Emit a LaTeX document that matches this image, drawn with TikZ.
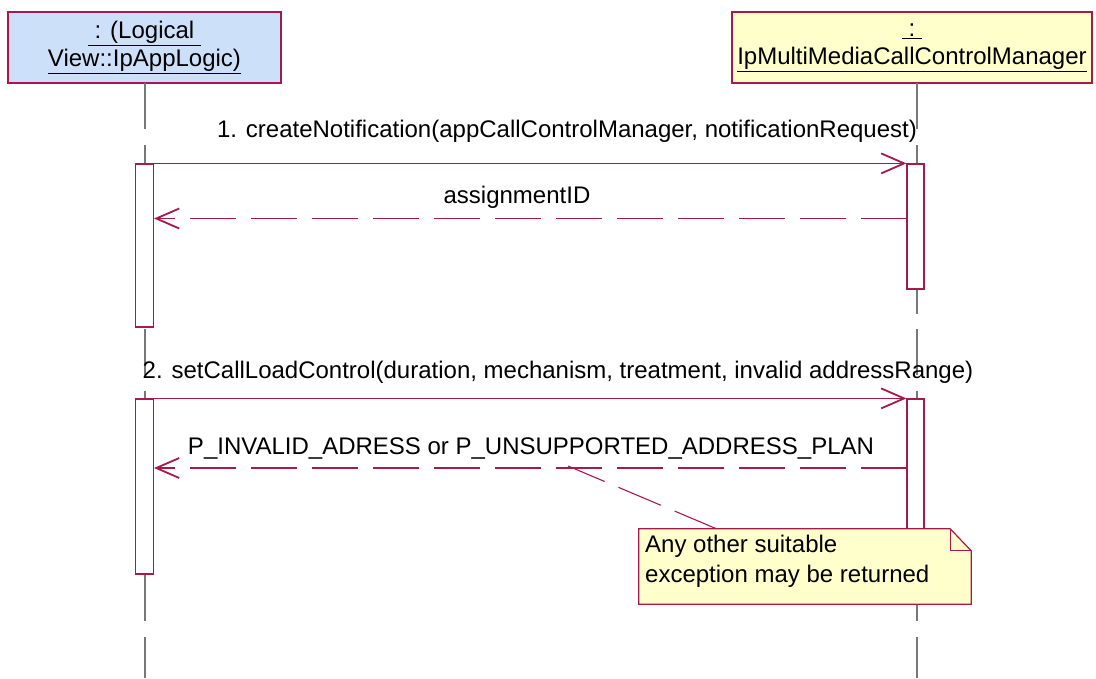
\documentclass[tikz,border=0pt]{standalone}
\usepackage{fontspec}
\setmainfont{Liberation Sans}
\usetikzlibrary{arrows.meta}
\definecolor{umlred}{RGB}{165,25,75}
\definecolor{boxblue}{RGB}{204,224,250}
\definecolor{noteyel}{RGB}{255,255,204}
\definecolor{lifegray}{RGB}{120,120,120}
\tikzset{
  obj/.style={draw=umlred, line width=1.2pt, inner sep=0pt, align=center, font=\fontsize{24}{28}\selectfont},
  lifeline/.style={draw=lifegray, line width=1.6pt, dash pattern=on 46pt off 15.5pt},
  actbox/.style={draw=umlred, fill=white, line width=1.2pt, inner sep=0pt, minimum width=18pt},
  msg/.style={draw=umlred, line width=1.3pt, -{Straight Barb[length=23pt,width=20pt,line width=1.8pt]}},
  ret/.style={msg, dash pattern=on 46pt off 15pt},
  lbl/.style={font=\fontsize{24}{28}\selectfont, inner sep=0pt},
  notelink/.style={draw=umlred, line width=1.1pt, dash pattern=on 46pt off 15pt},
  notebox/.style={draw=umlred, fill=noteyel, line width=1.2pt},
}
\begin{document}
\begin{tikzpicture}[x=1pt,y=-1pt]
\useasboundingbox (0,0) rectangle (1096,678);

% objects
\node[obj, fill=boxblue, minimum width=273pt, minimum height=71pt] (A) at (144.5,47.5)
  {\underline{\ : (Logical\ }\\\underline{View::IpAppLogic)}};
\node[obj, fill=noteyel, minimum width=360pt, minimum height=71pt] (B) at (912,47.5)
  {\underline{\ :\ }\\\underline{IpMultiMediaCallControlManager}};

% lifelines
\coordinate (Atop) at (145,83);
\coordinate (Abot) at (145,678);
\coordinate (Btop) at (917,83);
\coordinate (Bbot) at (917,678);
\draw[lifeline] (Atop) -- (Abot);
\draw[lifeline] (Btop) -- (Bbot);

% activations
\node[actbox, minimum height=163pt] (aL1) at (144.5,245.5) {};
\node[actbox, minimum width=17pt, minimum height=125pt] (aR1) at (915.5,226.5) {};
\node[actbox, minimum height=175pt] (aL2) at (144.5,486.5) {};
\node[actbox, minimum width=17pt, minimum height=175pt] (aR2) at (915.5,486.5) {};

% message 1
\draw[msg] (aL1.north east) -- (aR1.north west);
\node[lbl] (m1) at (567,131) {1. createNotification(appCallControlManager, notificationRequest)};
\coordinate (r1s) at (907,218.5);
\coordinate (r1e) at (154,218.5);
\draw[ret] (r1s) -- (r1e);
\node[lbl] (m1r) at (517,197) {assignmentID};

% message 2
\draw[msg] (aL2.north east) -- (aR2.north west);
\node[lbl] (m2) at (558,372) {2. setCallLoadControl(duration, mechanism, treatment, invalid addressRange)};
\coordinate (r2s) at (907,468);
\coordinate (r2e) at (154,468);
\draw[ret] (r2s) -- (r2e);
\node[lbl] (m2r) at (531,448) {P\_INVALID\_ADRESS or P\_UNSUPPORTED\_ADDRESS\_PLAN};

% note
\coordinate (nl) at (568,466);
\coordinate (nt) at (717,529);
\draw[notelink] (nt) -- (nl);
\node[minimum width=332pt, minimum height=75pt, inner sep=0pt] (N) at (805,566.5) {};
\draw[notebox] (N.south west) -- (N.north west) -- ([xshift=-21pt]N.north east)
  -- ([yshift=-22pt]N.north east) -- (N.south east) -- cycle;
\draw[draw=umlred, line width=1.2pt] ([xshift=-21pt]N.north east) -- ([xshift=-21pt,yshift=-22pt]N.north east)
  -- ([yshift=-22pt]N.north east);
\node[lbl, anchor=north west, align=left, font=\fontsize{24}{30}\selectfont] (Nt) at (645,535)
  {Any other suitable\\exception may be returned};
\end{tikzpicture}
\end{document}
